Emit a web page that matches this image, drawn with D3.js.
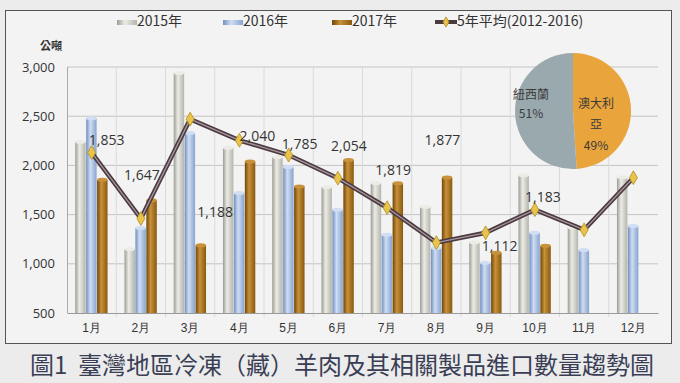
<!DOCTYPE html>
<html lang="zh-Hant">
<meta charset="utf-8" />
<style>
  body { margin: 0; background: #ececec; }
  svg { display: block; font-family: "Noto Sans CJK TC", "Noto Sans", sans-serif; }
</style>
<svg width="680" height="383"></svg>
<script src="https://d3js.org/d3.v7.min.js"></script>
<script>
// 資料
var months = ["1月", "2月", "3月", "4月", "5月", "6月", "7月", "8月", "9月", "10月", "11月", "12月"];
var seriesNames = ["2015年", "2016年", "2017年"];
var v2015 = [2240, 1150, 2940, 2180, 2085, 1780, 1820, 1580, 1220, 1900, 1370, 1880];
var v2016 = [2480, 1365, 2330, 1720, 1985, 1550, 1295, 1160, 1010, 1315, 1140, 1385];
var v2017 = [1853, 1647, 1188, 2040, 1785, 2054, 1819, 1877, 1112, 1183, null, null];
var avg5 = [2130, 1460, 2470, 2255, 2105, 1870, 1570, 1215, 1315, 1550, 1345, 1875];
var avgName = "5年平均(2012-2016)";
var yTicks = [500, 1000, 1500, 2000, 2500, 3000];
var pieShares = [49, 51]; // 澳大利亞, 紐西蘭

var svg = d3.select("svg");

// 外框
svg.append("rect")
    .attr("x", 5.5).attr("y", 10.5)
    .attr("width", 666).attr("height", 333)
    .attr("fill", "#f3f3f3")
    .attr("stroke", "#555").attr("stroke-width", 1);

var x = d3.scaleBand().domain(months).range([67, 658]);
var xi = d3.scaleBand().domain([0, 1, 2]).range([0, x.bandwidth()]).paddingOuter(0.75);
var y = d3.scaleLinear().domain([500, 3000]).range([313, 67]);

// 漸層 (圓柱效果)
var defs = svg.append("defs");
var barColors = [
  ["#9c9c94", "#ecece6", "#b4b4ac"],
  ["#6f8fc0", "#d0ddf2", "#87a3cf"],
  ["#6e4608", "#c9913a", "#87590f"]
];
barColors.forEach(function(c, i) {
  var g = defs.append("linearGradient").attr("id", "bar" + i);
  g.append("stop").attr("offset", "0%").attr("stop-color", c[0]);
  g.append("stop").attr("offset", "40%").attr("stop-color", c[1]);
  g.append("stop").attr("offset", "100%").attr("stop-color", c[2]);
});

// 格線
svg.append("g")
    .selectAll("line")
    .data(yTicks.slice(1))
    .join("line")
    .attr("x1", 67).attr("x2", 658)
    .attr("y1", function(d) { return y(d); })
    .attr("y2", function(d) { return y(d); })
    .attr("stroke", "#c4c4c4");

svg.append("g")
    .selectAll("line")
    .data(months.slice(1))
    .join("line")
    .attr("x1", function(d) { return x(d); })
    .attr("x2", function(d) { return x(d); })
    .attr("y1", y(3000)).attr("y2", y(500) + 4)
    .attr("stroke", "#dadada");

svg.append("line")
    .attr("x1", 67.5).attr("x2", 67.5)
    .attr("y1", y(3000)).attr("y2", y(500))
    .attr("stroke", "#aaa");

// Y 軸
svg.append("g")
    .attr("transform", "translate(58,0)")
    .call(d3.axisLeft(y).tickValues(yTicks).tickFormat(d3.format(",")).tickSize(0))
    .call(function(g) { g.select(".domain").remove(); })
    .selectAll("text")
    .attr("font-size", 13).attr("fill", "#333")
    .attr("font-family", "'Open Sans', 'Noto Sans', sans-serif");

svg.append("text")
    .attr("x", 40).attr("y", 50)
    .attr("font-size", 11).attr("font-weight", "bold").attr("fill", "#333")
    .text("公噸");

// X 軸
svg.append("g")
    .attr("transform", "translate(0," + y(500) + ")")
    .call(d3.axisBottom(x).tickSize(0).tickPadding(10))
    .call(function(g) { g.select(".domain").attr("stroke", "#999"); })
    .selectAll("text")
    .attr("font-size", 12).attr("fill", "#333");

// 長條
var allSeries = [v2015, v2016, v2017];
allSeries.forEach(function(vals, si) {
  var g = svg.append("g");
  var items = vals.map(function(v, i) { return { m: months[i], v: v }; })
      .filter(function(d) { return d.v != null; });
  g.selectAll("rect")
    .data(items)
    .join("rect")
      .attr("x", function(d) { return x(d.m) + xi(si); })
      .attr("y", function(d) { return y(d.v); })
      .attr("width", xi.bandwidth() - 0.5)
      .attr("height", function(d) { return y(500) - y(d.v); })
      .attr("fill", "url(#bar" + si + ")");
  g.selectAll("ellipse")
    .data(items)
    .join("ellipse")
      .attr("cx", function(d) { return x(d.m) + xi(si) + xi.bandwidth() / 2 - 0.25; })
      .attr("cy", function(d) { return y(d.v); })
      .attr("rx", xi.bandwidth() / 2 - 0.25).attr("ry", 2)
      .attr("fill", barColors[si][1]);
});

// 5年平均 折線
var line = d3.line()
    .x(function(d, i) { return x(months[i]) + x.bandwidth() / 2; })
    .y(function(d) { return y(d); });

svg.append("path").datum(avg5).attr("d", line)
    .attr("fill", "none").attr("stroke", "#4b3a40").attr("stroke-width", 4.5);
svg.append("path").datum(avg5).attr("d", line)
    .attr("fill", "none").attr("stroke", "#a9979f").attr("stroke-width", 1.3);

var diamond = d3.symbol().type(d3.symbolDiamond).size(55);
svg.append("g")
    .selectAll("path")
    .data(avg5)
    .join("path")
    .attr("transform", function(d, i) {
      return "translate(" + (x(months[i]) + x.bandwidth() / 2) + "," + y(d) + ")";
    })
    .attr("d", diamond)
    .attr("fill", "#e8c44c").attr("stroke", "#b38b1e").attr("stroke-width", 0.8);

// 2017 數據標籤 (位置微調)
var nudge = [[15, -40], [1, -25], [25, -33], [18, -25], [11, -42], [11, -14], [6, -13], [6, -37], [14, -7], [8, -49]];
svg.append("g")
    .selectAll("text")
    .data(v2017.filter(function(v) { return v != null; }))
    .join("text")
    .attr("x", function(d, i) { return x(months[i]) + x.bandwidth() / 2 + nudge[i][0]; })
    .attr("y", function(d, i) { return y(d) + nudge[i][1]; })
    .attr("dy", "0.35em")
    .attr("text-anchor", "middle")
    .attr("font-size", 14).attr("fill", "#333")
    .attr("font-family", "'Open Sans', 'Noto Sans', sans-serif")
    .text(d3.format(","));

// 圓餅圖
var pieColors = ["#e9a43c", "#9aa9ae"];
var pie = d3.pie().sort(null).value(function(d) { return d; });
var arc = d3.arc().innerRadius(0).outerRadius(58);
var pg = svg.append("g").attr("transform", "translate(573,111)");
pg.selectAll("path")
    .data(pie(pieShares))
    .join("path")
    .attr("d", arc)
    .attr("fill", function(d, i) { return pieColors[i]; });

var pieLabels = [
  { lines: ["澳大利", "亞", pieShares[0] + "%"], x: 23, y0: -7, gap: 21 },
  { lines: ["紐西蘭", pieShares[1] + "%"], x: -42, y0: -16, gap: 19 }
];
pieLabels.forEach(function(p) {
  pg.append("g").selectAll("text")
      .data(p.lines)
      .join("text")
      .attr("x", p.x)
      .attr("y", function(d, i) { return p.y0 + i * p.gap; })
      .attr("dy", "0.35em")
      .attr("text-anchor", "middle")
      .attr("font-size", 12).attr("fill", "#3a3a3a")
      .text(function(d) { return d; });
});

// 圖例
var legend = svg.append("g").attr("transform", "translate(0,21)");
var legX = [117, 223, 332];
seriesNames.forEach(function(n, i) {
  legend.append("rect")
      .attr("x", legX[i]).attr("y", -1).attr("width", 20).attr("height", 5)
      .attr("fill", "url(#bar" + i + ")");
  legend.append("text")
      .attr("x", legX[i] + 20).attr("y", 0).attr("dy", "0.35em")
      .attr("font-size", 14).attr("fill", "#333")
      .text(n);
});
legend.append("line")
    .attr("x1", 435).attr("x2", 457).attr("y1", 1).attr("y2", 1)
    .attr("stroke", "#4b3a40").attr("stroke-width", 4);
legend.append("path")
    .attr("transform", "translate(446,1)")
    .attr("d", d3.symbol().type(d3.symbolDiamond).size(30))
    .attr("fill", "#e8c44c").attr("stroke", "#b38b1e").attr("stroke-width", 0.8);
legend.append("text")
    .attr("x", 457).attr("y", 0).attr("dy", "0.35em")
    .attr("font-size", 14).attr("fill", "#333")
    .text(avgName);

// 標題
svg.append("text")
    .attr("x", 342).attr("y", 366)
    .attr("dy", "0.35em")
    .attr("text-anchor", "middle")
    .attr("font-size", 24).attr("fill", "#3a3e55")
    .style("white-space", "pre")
    .text("圖1  臺灣地區冷凍（藏）羊肉及其相關製品進口數量趨勢圖");
</script>
</html>
